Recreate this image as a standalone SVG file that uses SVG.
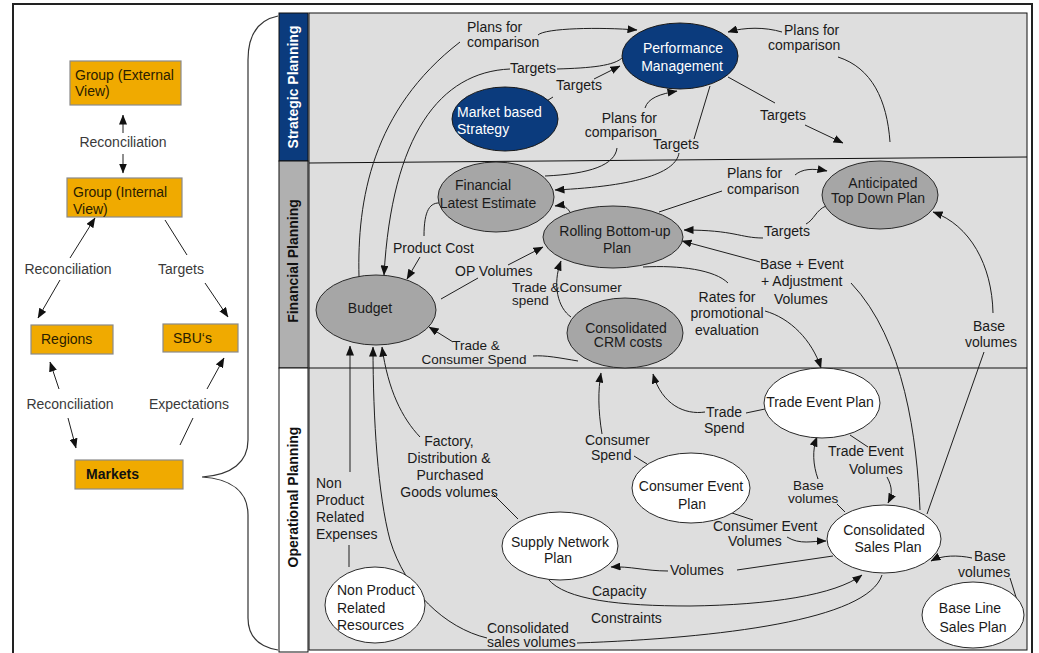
<svg xmlns="http://www.w3.org/2000/svg" width="1039" height="653" viewBox="0 0 1039 653">
  <defs>
    <marker id="ah" viewBox="0 0 10 8" markerWidth="10" markerHeight="8" refX="9.5" refY="4" orient="auto" markerUnits="userSpaceOnUse">
      <path d="M0,0 L10,4 L0,8 z" fill="#111"/>
    </marker>
    <style>
      text { font-family: "Liberation Sans", Arial, sans-serif; font-size: 14px; }
      .lbl { fill: #1a1a1a; }
      .tight { font-size: 13.5px; }
      .side { fill: #3a3a3a; }
      .box rect { fill: #f0aa00; stroke: #8a8a8a; stroke-width: 1.2; }
      .box text { fill: #2a2000; }
      .navy ellipse { fill: #0b3b7d; stroke: #1a1a1a; stroke-width: 1; }
      .navy text { fill: #ffffff; }
      .grey ellipse { fill: #a6a6a6; stroke: #2a2a2a; stroke-width: 1; }
      .grey text { fill: #1a1a1a; }
      .white ellipse { fill: #ffffff; stroke: #2a2a2a; stroke-width: 1; }
      .white text { fill: #1a1a1a; }
      .c path, .c line { fill: none; stroke: #1e1e1e; stroke-width: 1; }
      .c .a { marker-end: url(#ah); }
      .band { font-weight: bold; font-size: 14px; }
    </style>
  </defs>

  <!-- page background and outer frame -->
  <rect x="0" y="0" width="1039" height="653" fill="#ffffff"/>
  <rect x="13" y="4" width="1019" height="660" fill="none" stroke="#222" stroke-width="2"/>

  <!-- planning area with its three bands -->
  <g id="planning-area">
    <rect x="309" y="13" width="718" height="637" fill="#dedede" stroke="#111" stroke-width="1"/>
    <line x1="309" y1="163" x2="1027" y2="157" stroke="#111" stroke-width="1"/>
    <line x1="309" y1="368" x2="1027" y2="368" stroke="#111" stroke-width="1"/>
    <rect x="279" y="13" width="29" height="148" fill="#0b3b7d" stroke="#111" stroke-width="1"/>
    <rect x="279" y="161" width="29" height="207" fill="#b0b0b0" stroke="#111" stroke-width="1"/>
    <rect x="279" y="368" width="29" height="284" fill="#ffffff" stroke="#111" stroke-width="1"/>
    <text class="band" transform="translate(298,87) rotate(-90)" text-anchor="middle" fill="#ffffff">Strategic Planning</text>
    <text class="band" transform="translate(298,261) rotate(-90)" text-anchor="middle" fill="#111">Financial Planning</text>
    <text class="band" transform="translate(298,497) rotate(-90)" text-anchor="middle" fill="#111">Operational Planning</text>
  </g>

  <!-- brace linking Markets to the planning bands -->
  <path d="M278,16 C258,20 248,35 248,60 L248,440 C248,462 232,475 202,477 C232,479 248,492 248,515 L248,618 C248,638 260,647 278,650" fill="none" stroke="#333" stroke-width="1.2"/>

  <!-- organisational hierarchy -->
  <g id="group-external" class="box">
    <rect x="70" y="61" width="111" height="44"/>
    <text x="75" y="80">Group (External</text>
    <text x="75" y="96">View)</text>
  </g>
  <g id="group-internal" class="box">
    <rect x="67" y="178" width="115" height="39"/>
    <text x="73" y="197">Group (Internal</text>
    <text x="73" y="214">View)</text>
  </g>
  <g id="regions" class="box">
    <rect x="31" y="325" width="82" height="29"/>
    <text x="41" y="344">Regions</text>
  </g>
  <g id="sbus" class="box">
    <rect x="163" y="324" width="75" height="28"/>
    <text x="173" y="343">SBU‘s</text>
  </g>
  <g id="markets" class="box">
    <rect x="75" y="460" width="108" height="29"/>
    <text x="86" y="479" font-weight="bold" style="fill:#111">Markets</text>
  </g>

  <g id="hierarchy-links" class="c">
    <path class="a" d="M123,133 L123,115"/>
    <path class="a" d="M123,154 L123,173"/>
    <path class="a" d="M70,258 L95,218"/>
    <path class="a" d="M60,280 L38,318"/>
    <path d="M165,220 L187,255"/>
    <path class="a" d="M205,283 L228,317"/>
    <path class="a" d="M59,389 L50,362"/>
    <path class="a" d="M68,418 L76,448"/>
    <path class="a" d="M207,389 L224,358"/>
    <path d="M193,418 L180,445"/>
    <text class="side" x="123" y="147" text-anchor="middle">Reconciliation</text>
    <text class="side" x="68" y="274" text-anchor="middle">Reconciliation</text>
    <text class="side" x="181" y="274" text-anchor="middle">Targets</text>
    <text class="side" x="70" y="409" text-anchor="middle">Reconciliation</text>
    <text class="side" x="189" y="409" text-anchor="middle">Expectations</text>
  </g>

  <!-- planning flows -->
  <g id="connectors" class="c">
    <!-- Budget to Performance Management -->
    <path d="M359,277 C357,200 372,110 460,42"/>
    <path class="a" d="M538,35 C545,28 600,27 637,30"/>
    <!-- Performance Management to Budget -->
    <path d="M557,69 C590,68 615,66 623,57"/>
    <path class="a" d="M510,69 C440,72 392,135 384,275"/>
    <!-- Market based Strategy to Performance Management -->
    <path d="M537,107 L553,97"/>
    <path class="a" d="M594,79 L620,66"/>
    <!-- Financial Latest Estimate to Performance Management -->
    <path d="M617,148 C615,165 590,174 545,176"/>
    <path class="a" d="M645,108 C648,98 660,94 677,91"/>
    <!-- Performance Management to Financial Latest Estimate -->
    <path d="M710,86 L694,139"/>
    <path class="a" d="M679,153 C676,172 640,186 555,190"/>
    <!-- Performance Management targets to top down plan -->
    <path d="M728,77 L775,103"/>
    <path class="a" d="M805,125 L843,143"/>
    <!-- Anticipated Top Down Plan to Performance Management -->
    <path d="M890,142 C887,100 872,68 838,57"/>
    <path class="a" d="M782,32 C765,27 745,27 728,32"/>
    <!-- Rolling Bottom-up Plan to Anticipated Top Down Plan -->
    <path d="M659,212 L722,191"/>
    <path class="a" d="M795,175 C802,169 812,168 827,171"/>
    <!-- Anticipated Top Down Plan to Rolling Bottom-up Plan -->
    <path d="M826,206 C816,210 814,220 806,224"/>
    <path class="a" d="M763,238 C740,238 735,230 684,230"/>
    <!-- Consolidated Sales Plan to Rolling Bottom-up Plan -->
    <path d="M920,510 C917,440 905,340 851,283"/>
    <path class="a" d="M760,262 L682,241"/>
    <!-- Rolling Bottom-up Plan to Trade Event Plan -->
    <path d="M643,267 C680,265 715,270 728,283"/>
    <path class="a" d="M765,311 C790,318 812,340 821,368"/>
    <!-- Budget to Rolling Bottom-up Plan -->
    <path d="M441,299 L478,278"/>
    <path class="a" d="M508,265 L543,247"/>
    <!-- Financial Latest Estimate to Budget -->
    <path d="M441,203 C430,202 424,210 424,236"/>
    <path class="a" d="M420,257 L407,279"/>
    <!-- Rolling Bottom-up Plan to Financial Latest Estimate -->
    <path class="a" d="M570,212 C566,206 562,205 555,206"/>
    <!-- Consolidated CRM costs to Rolling Bottom-up Plan -->
    <path class="a" d="M571,317 C558,308 552,285 561,261"/>
    <!-- Consolidated CRM costs to Budget -->
    <path d="M578,361 C560,358 545,355 533,356"/>
    <path class="a" d="M453,342 L429,327"/>
    <!-- Consolidated Sales Plan to Anticipated Top Down Plan -->
    <path d="M927,514 L984,352"/>
    <path class="a" d="M993,313 C992,265 970,225 933,212"/>
    <!-- Non Product Related Resources to Budget -->
    <path d="M349,567 L349,545"/>
    <path class="a" d="M350,472 L350,346"/>
    <!-- Consolidated Sales Plan to Budget -->
    <path d="M882,575 C868,620 720,638 577,643"/>
    <path class="a" d="M487,638 C445,628 405,590 390,540 C378,495 373,420 373,347"/>
    <!-- Supply Network Plan to Budget -->
    <path d="M518,519 L492,493"/>
    <path class="a" d="M420,437 C402,418 388,390 382,347"/>
    <!-- Consumer Event Plan to Consolidated CRM costs -->
    <path d="M647,464 L634,456"/>
    <path class="a" d="M602,434 C598,410 598,390 601,373"/>
    <!-- Trade Event Plan to Consolidated CRM costs -->
    <path d="M765,409 L746,413"/>
    <path class="a" d="M705,412 C685,415 662,405 653,374"/>
    <!-- Trade Event Plan to Consolidated Sales Plan -->
    <path d="M850,435 L868,447"/>
    <path class="a" d="M887,477 C893,488 892,495 888,503"/>
    <!-- Consolidated Sales Plan to Trade Event Plan -->
    <path d="M845,512 L837,504"/>
    <path class="a" d="M818,479 C813,465 812,450 817,437"/>
    <!-- Consumer Event Plan to Consolidated Sales Plan -->
    <path d="M732,513 L753,520"/>
    <path class="a" d="M787,537 C800,545 812,541 826,541"/>
    <!-- Consolidated Sales Plan to Supply Network Plan -->
    <path d="M833,556 L737,570"/>
    <path class="a" d="M668,571 C645,571 630,566 611,567"/>
    <!-- Supply Network Plan to Consolidated Sales Plan -->
    <path class="a" d="M548,579 C565,600 620,606 690,606 C770,605 835,595 862,575"/>
    <!-- Base Line Sales Plan to Consolidated Sales Plan -->
    <path d="M1021,613 L1010,578"/>
    <path class="a" d="M972,558 C958,555 942,555 931,561"/>
  </g>

  <!-- flow labels -->
  <g id="flow-labels" class="lbl">
    <text class="lbl" x="467" y="32">Plans for</text>
    <text class="lbl" x="467" y="47">comparison</text>
    <text class="lbl" x="510" y="73">Targets</text>
    <text class="lbl" x="556" y="90">Targets</text>
    <text class="lbl" x="657" y="123" text-anchor="end">Plans for</text>
    <text class="lbl" x="657" y="137" text-anchor="end">comparison</text>
    <text class="lbl" x="653" y="149">Targets</text>
    <text class="lbl" x="760" y="120">Targets</text>
    <text class="lbl" x="784" y="35">Plans for</text>
    <text class="lbl" x="768" y="50">comparison</text>
    <text class="lbl" x="727" y="178">Plans for</text>
    <text class="lbl" x="727" y="194">comparison</text>
    <text class="lbl" x="764" y="236">Targets</text>
    <text class="lbl" x="760" y="269">Base + Event</text>
    <text class="lbl" x="761" y="286">+ Adjustment</text>
    <text class="lbl" x="774" y="304">Volumes</text>
    <text class="lbl" x="727" y="302" text-anchor="middle">Rates for</text>
    <text class="lbl" x="727" y="318" text-anchor="middle">promotional</text>
    <text class="lbl" x="727" y="335" text-anchor="middle">evaluation</text>
    <text class="lbl" x="455" y="276">OP Volumes</text>
    <text class="lbl" x="393" y="253">Product Cost</text>
    <text class="lbl tight" x="512" y="292">Trade &amp;Consumer</text>
    <text class="lbl tight" x="512" y="305">spend</text>
    <text class="lbl tight" x="476" y="350" text-anchor="middle">Trade &amp;</text>
    <text class="lbl tight" x="474" y="364" text-anchor="middle">Consumer Spend</text>
    <text class="lbl" x="989" y="331" text-anchor="middle">Base</text>
    <text class="lbl" x="991" y="347" text-anchor="middle">volumes</text>
    <text class="lbl" x="316" y="488">Non</text>
    <text class="lbl" x="316" y="505">Product</text>
    <text class="lbl" x="316" y="522">Related</text>
    <text class="lbl" x="316" y="539">Expenses</text>
    <text class="lbl" x="449" y="446" text-anchor="middle">Factory,</text>
    <text class="lbl" x="449" y="463" text-anchor="middle">Distribution &amp;</text>
    <text class="lbl" x="450" y="480" text-anchor="middle">Purchased</text>
    <text class="lbl" x="449" y="497" text-anchor="middle">Goods volumes</text>
    <text class="lbl" x="585" y="445">Consumer</text>
    <text class="lbl" x="591" y="460">Spend</text>
    <text class="lbl" x="706" y="417">Trade</text>
    <text class="lbl" x="704" y="433">Spend</text>
    <text class="lbl" x="828" y="456">Trade Event</text>
    <text class="lbl" x="849" y="474">Volumes</text>
    <text class="lbl tight" x="793" y="490">Base</text>
    <text class="lbl tight" x="788" y="503">volumes</text>
    <text class="lbl" x="713" y="531">Consumer Event</text>
    <text class="lbl" x="728" y="546">Volumes</text>
    <text class="lbl" x="670" y="575">Volumes</text>
    <text class="lbl" x="592" y="596">Capacity</text>
    <text class="lbl" x="591" y="623">Constraints</text>
    <text class="lbl" x="487" y="633">Consolidated</text>
    <text class="lbl" x="487" y="647">sales volumes</text>
    <text class="lbl" x="974" y="561">Base</text>
    <text class="lbl" x="958" y="577">volumes</text>
  </g>

  <!-- strategic planning nodes -->
  <g id="performance-management" class="navy">
    <ellipse cx="680" cy="56" rx="58" ry="33"/>
    <text x="683" y="53" text-anchor="middle">Performance</text>
    <text x="682" y="71" text-anchor="middle">Management</text>
  </g>
  <g id="market-based-strategy" class="navy">
    <ellipse cx="505" cy="119" rx="53" ry="32"/>
    <text x="457" y="117">Market based</text>
    <text x="457" y="134">Strategy</text>
  </g>

  <!-- financial planning nodes -->
  <g id="financial-latest-estimate" class="grey">
    <ellipse cx="496" cy="197" rx="58" ry="35"/>
    <text x="483" y="190" text-anchor="middle">Financial</text>
    <text x="488" y="208" text-anchor="middle">Latest Estimate</text>
  </g>
  <g id="rolling-bottom-up-plan" class="grey">
    <ellipse cx="613" cy="237" rx="70" ry="31"/>
    <text x="615" y="236" text-anchor="middle">Rolling Bottom-up</text>
    <text x="617" y="253" text-anchor="middle">Plan</text>
  </g>
  <g id="budget" class="grey">
    <ellipse cx="376" cy="310" rx="60" ry="35"/>
    <text x="370" y="313" text-anchor="middle">Budget</text>
  </g>
  <g id="consolidated-crm-costs" class="grey">
    <ellipse cx="625" cy="333" rx="58" ry="35"/>
    <text x="626" y="333" text-anchor="middle">Consolidated</text>
    <text x="628" y="347" text-anchor="middle">CRM costs</text>
  </g>
  <g id="anticipated-top-down-plan" class="grey">
    <ellipse cx="880" cy="195" rx="58" ry="34"/>
    <text x="883" y="188" text-anchor="middle">Anticipated</text>
    <text x="878" y="203" text-anchor="middle">Top Down Plan</text>
  </g>

  <!-- operational planning nodes -->
  <g id="trade-event-plan" class="white">
    <ellipse cx="822" cy="403" rx="58" ry="35"/>
    <text x="820" y="407" text-anchor="middle">Trade Event Plan</text>
  </g>
  <g id="consumer-event-plan" class="white">
    <ellipse cx="691" cy="488" rx="59" ry="35"/>
    <text x="691" y="491" text-anchor="middle">Consumer Event</text>
    <text x="692" y="509" text-anchor="middle">Plan</text>
  </g>
  <g id="consolidated-sales-plan" class="white">
    <ellipse cx="884" cy="539" rx="57" ry="34"/>
    <text x="884" y="535" text-anchor="middle">Consolidated</text>
    <text x="888" y="552" text-anchor="middle">Sales Plan</text>
  </g>
  <g id="supply-network-plan" class="white">
    <ellipse cx="560" cy="546" rx="58" ry="34"/>
    <text x="560" y="547" text-anchor="middle">Supply Network</text>
    <text x="558" y="563" text-anchor="middle">Plan</text>
  </g>
  <g id="non-product-related-resources" class="white">
    <ellipse cx="375" cy="605" rx="50" ry="38"/>
    <text x="337" y="595">Non Product</text>
    <text x="337" y="613">Related</text>
    <text x="337" y="630">Resources</text>
  </g>
  <g id="base-line-sales-plan" class="white">
    <ellipse cx="973" cy="615" rx="51" ry="33"/>
    <text x="970" y="613" text-anchor="middle">Base Line</text>
    <text x="973" y="632" text-anchor="middle">Sales Plan</text>
  </g>
</svg>
